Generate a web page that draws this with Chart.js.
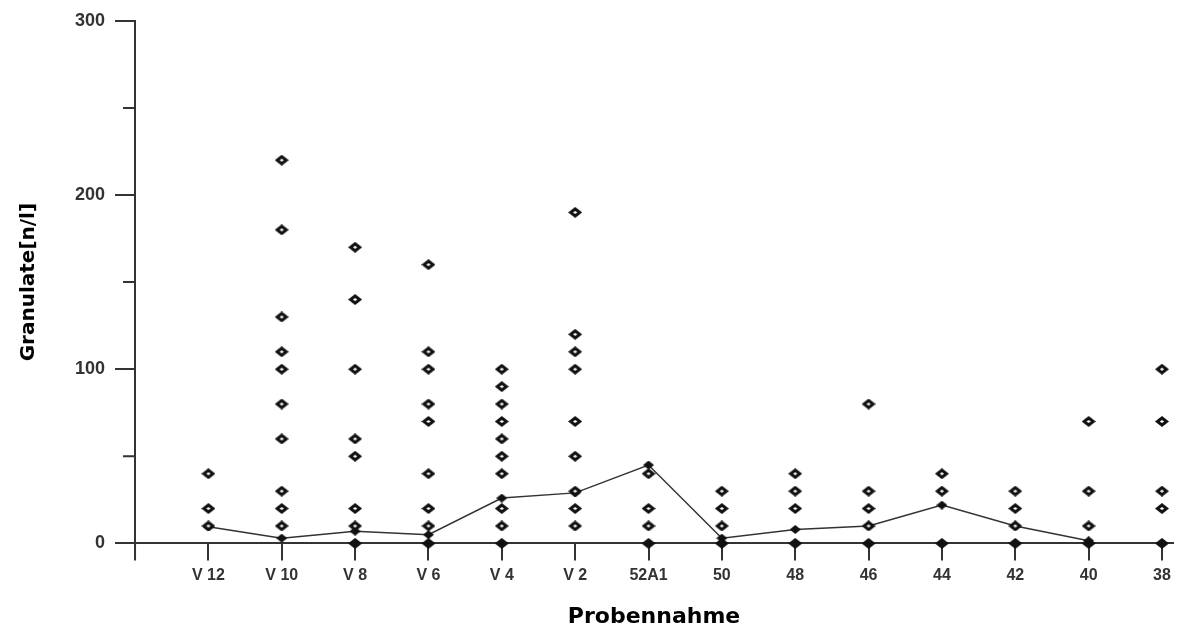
<!DOCTYPE html>
<html lang="de">
<head>
<meta charset="utf-8"/>
<title>Granulate je Probennahme</title>
<script src="https://cdn.jsdelivr.net/npm/chart.js"></script>
<style>
  html, body { margin: 0; padding: 0; background: #fff; }
  .wrap { width: 1180px; height: 630px; }
</style>
</head>
<body>
<div class="wrap"><canvas id="chart"></canvas></div>
<script>
// Probennahme-Stellen
const kategorien = ['V 12', 'V 10', 'V 8', 'V 6', 'V 4', 'V 2', '52A1', '50', '48', '46', '44', '42', '40', '38'];

// Einzelwerte Granulate [n/l] je Stelle
const werteV12 = [40, 20, 10];
const werteV10 = [220, 180, 130, 110, 100, 80, 60, 30, 20, 10];
const werteV8 = [170, 140, 100, 60, 50, 20, 10, 0];
const werteV6 = [160, 110, 100, 80, 70, 40, 20, 10, 0];
const werteV4 = [100, 90, 80, 70, 60, 50, 40, 20, 10, 0];
const werteV2 = [190, 120, 110, 100, 70, 50, 30, 20, 10];
const werte52A1 = [40, 20, 10, 0];
const werte50 = [30, 20, 10, 0];
const werte48 = [40, 30, 20, 0];
const werte46 = [80, 30, 20, 10, 0];
const werte44 = [40, 30, 0];
const werte42 = [30, 20, 10, 0];
const werte40 = [70, 30, 10, 0];
const werte38 = [100, 70, 30, 20, 0];

// Verbindungslinie
const linie = [9.5, 3, 7, 5, 26, 29, 45, 3, 8, 10, 22, 10, 1.5, null];

const yTicks = [0, 50, 100, 150, 200, 250, 300];

const alleWerte = [werteV12, werteV10, werteV8, werteV6, werteV4, werteV2, werte52A1,
  werte50, werte48, werte46, werte44, werte42, werte40, werte38];

const punkte = [];
alleWerte.forEach((liste, i) => {
  liste.forEach(v => punkte.push({ x: i, y: v }));
});

function raute(w, h, voll) {
  const c = document.createElement('canvas');
  c.width = w; c.height = h;
  const g = c.getContext('2d');
  g.beginPath();
  g.moveTo(w / 2, 0);
  g.lineTo(w, h / 2);
  g.lineTo(w / 2, h);
  g.lineTo(0, h / 2);
  g.closePath();
  g.fillStyle = '#111';
  g.fill();
  if (!voll) {
    g.beginPath();
    g.moveTo(w / 2, h / 2 - 1.6);
    g.lineTo(w / 2 + 2.2, h / 2);
    g.lineTo(w / 2, h / 2 + 1.6);
    g.lineTo(w / 2 - 2.2, h / 2);
    g.closePath();
    g.fillStyle = '#fff';
    g.fill();
  }
  return c;
}
const offen = raute(14, 11, false);
const voll = raute(14, 11, true);
const klein = raute(11, 9, true);

// kleine Zwischenstriche und verlaengerte y-Achse
const achsenPlugin = {
  id: 'achsen',
  afterDraw(chart) {
    const ctx = chart.ctx;
    const xs = chart.scales.x;
    const ys = chart.scales.y;
    ctx.save();
    ctx.strokeStyle = '#333';
    ctx.lineWidth = 2;
    ctx.beginPath();
    ctx.moveTo(xs.left, ys.bottom);
    ctx.lineTo(xs.left, ys.bottom + 17);
    [50, 150, 250].forEach(v => {
      const p = ys.getPixelForValue(v);
      ctx.moveTo(xs.left - 12, p);
      ctx.lineTo(xs.left, p);
    });
    ctx.stroke();
    ctx.restore();
  }
};

new Chart(document.getElementById('chart').getContext('2d'), {
  type: 'scatter',
  data: {
    datasets: [{
      label: 'Linie',
      type: 'line',
      data: linie.map((v, i) => ({ x: i, y: v })),
      borderColor: '#333',
      borderWidth: 1.5,
      pointStyle: klein,
      pointRadius: 4,
      spanGaps: false,
      clip: false,
      order: 2
    }, {
      label: 'Granulate',
      data: punkte,
      pointStyle: ctx => (ctx.raw && ctx.raw.y === 0 ? voll : offen),
      pointRadius: 6,
      clip: false,
      order: 1
    }]
  },
  options: {
    responsive: true,
    maintainAspectRatio: false,
    animation: false,
    layout: { padding: { left: 17, right: 0, top: 9, bottom: 0 } },
    plugins: {
      legend: { display: false },
      tooltip: { enabled: false }
    },
    scales: {
      x: {
        type: 'linear',
        min: -1,
        max: 13.15,
        afterBuildTicks: s => { s.ticks = kategorien.map((k, i) => ({ value: i })); },
        grid: { drawOnChartArea: false, drawTicks: true, tickLength: 17, color: '#333', lineWidth: 2 },
        border: { display: true, color: '#333', width: 2 },
        ticks: {
          autoSkip: false,
          maxRotation: 0,
          padding: 6,
          color: '#333',
          font: { family: 'Liberation Sans', weight: 'bold', size: 16 },
          callback: v => kategorien[v]
        },
        title: {
          display: true,
          text: 'Probennahme',
          color: '#000',
          font: { family: 'DejaVu Sans', weight: 'bold', size: 22 },
          padding: { top: 12, bottom: 0 }
        }
      },
      y: {
        min: 0,
        max: 300,
        afterBuildTicks: s => { s.ticks = yTicks.filter(v => v % 100 === 0).map(v => ({ value: v })); },
        grid: { drawOnChartArea: false, drawTicks: true, tickLength: 20, color: '#333', lineWidth: 2 },
        border: { display: true, color: '#333', width: 2 },
        ticks: {
          padding: 10,
          color: '#333',
          font: { family: 'Liberation Sans', weight: 'bold', size: 18 }
        },
        title: {
          display: true,
          text: 'Granulate[n/l]',
          color: '#000',
          font: { family: 'DejaVu Sans', weight: 'bold', size: 20 },
          padding: { top: 0, bottom: 24 }
        }
      }
    }
  },
  plugins: [achsenPlugin]
});
</script>
</body>
</html>
